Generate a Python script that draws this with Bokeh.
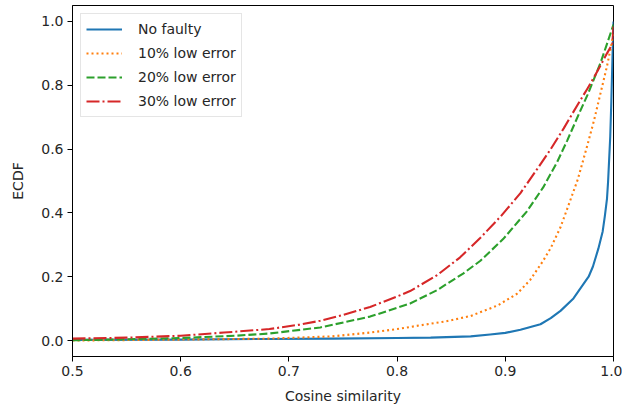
from bokeh.plotting import figure
from bokeh.models import FixedTicker, NumeralTickFormatter, Legend, LegendItem
from bokeh.embed import file_html
from bokeh.resources import INLINE

# ECDF of cosine similarity for each fault scenario
no_faulty_x = [0.5, 0.6, 0.682, 0.74, 0.8, 0.831, 0.868, 0.886, 0.9, 0.914, 0.9325,
               0.942, 0.951, 0.963, 0.972, 0.977, 0.981, 0.986, 0.990, 0.992, 0.994,
               0.995, 0.997, 0.998, 0.999, 1.0]
no_faulty_y = [0.002, 0.003, 0.005, 0.006, 0.008, 0.009, 0.013, 0.019, 0.024, 0.034,
               0.051, 0.07, 0.093, 0.132, 0.176, 0.20, 0.232, 0.288, 0.342, 0.39,
               0.445, 0.498, 0.64, 0.75, 0.88, 1.0]

low10_x = [0.5, 0.6, 0.682, 0.74, 0.775, 0.8, 0.822, 0.845, 0.868, 0.893, 0.911,
           0.923, 0.935, 0.942, 0.951, 0.958, 0.967, 0.976, 0.982, 0.988, 0.994,
           0.997, 1.0]
low10_y = [0.0, 0.003, 0.006, 0.013, 0.025, 0.036, 0.048, 0.06, 0.077, 0.11, 0.147,
           0.19, 0.25, 0.29, 0.355, 0.42, 0.505, 0.614, 0.69, 0.775, 0.86, 0.91, 0.96]

low20_x = [0.5, 0.55, 0.6, 0.65, 0.682, 0.729, 0.775, 0.812, 0.837, 0.861, 0.877,
           0.898, 0.920, 0.935, 0.948, 0.957, 0.968, 0.976, 0.982, 0.988, 0.994, 1.0]
low20_y = [0.001, 0.004, 0.008, 0.015, 0.022, 0.041, 0.075, 0.116, 0.158, 0.21,
           0.25, 0.318, 0.405, 0.48, 0.56, 0.625, 0.71, 0.77, 0.82, 0.87, 0.93, 0.99]

low30_x = [0.5, 0.55, 0.6, 0.64, 0.682, 0.71, 0.729, 0.75, 0.775, 0.8, 0.812, 0.837,
           0.858, 0.877, 0.896, 0.914, 0.930, 0.942, 0.954, 0.967, 0.976, 0.982,
           0.988, 0.994, 0.999, 1.0]
low30_y = [0.006, 0.009, 0.015, 0.025, 0.036, 0.05, 0.062, 0.08, 0.105, 0.138,
           0.155, 0.205, 0.26, 0.322, 0.39, 0.462, 0.54, 0.60, 0.665, 0.74, 0.79,
           0.825, 0.862, 0.90, 0.93, 0.99]

series_labels = ["No faulty", "10% low error", "20% low error", "30% low error"]
x_ticks = [0.5, 0.6, 0.7, 0.8, 0.9, 1.0]
y_ticks = [0.0, 0.2, 0.4, 0.6, 0.8, 1.0]

FONT = "DejaVu Sans"
TEXT = "#262626"

p = figure(width=622, height=410, x_range=(0.5, 1.0), y_range=(-0.05, 1.05),
           output_backend="svg", toolbar_location=None,
           min_border_left=72, min_border_right=9, min_border_top=5,
           min_border_bottom=54)
p.background_fill_color = "white"
p.border_fill_color = "white"
p.outline_line_color = "black"
p.outline_line_width = 1
p.xgrid.visible = False
p.ygrid.visible = False

styles = [
    ("#1f77b4", "solid"),
    ("#ff7f0e", "2 3"),
    ("#2ca02c", "8 3"),
    ("#d62728", "13 3 2 3"),
]
data = [(no_faulty_x, no_faulty_y), (low10_x, low10_y),
        (low20_x, low20_y), (low30_x, low30_y)]

items = []
for (xs, ys), (color, dash), label in zip(data, styles, series_labels):
    r = p.line(xs, ys, line_color=color, line_width=2.1, line_dash=dash,
               line_join="round")
    items.append(LegendItem(label=label, renderers=[r]))

p.xaxis.ticker = FixedTicker(ticks=x_ticks)
p.yaxis.ticker = FixedTicker(ticks=y_ticks)
p.xaxis.formatter = NumeralTickFormatter(format="0.0")
p.yaxis.formatter = NumeralTickFormatter(format="0.0")
for ax in (p.xaxis[0], p.yaxis[0]):
    ax.minor_tick_line_color = None
    ax.major_tick_in = 0
    ax.major_tick_out = 5
    ax.major_tick_line_color = "black"
    ax.axis_line_color = "black"
    ax.major_label_text_font = FONT
    ax.major_label_text_font_size = "14px"
    ax.major_label_text_color = TEXT
    ax.axis_label_text_font = FONT
    ax.axis_label_text_font_size = "14px"
    ax.axis_label_text_font_style = "normal"
    ax.axis_label_text_color = TEXT
    ax.major_label_standoff = 4
p.xaxis.axis_label = "Cosine similarity"
p.yaxis.axis_label = "ECDF"
p.xaxis.axis_label_standoff = 9
p.yaxis.axis_label_standoff = 12

legend = Legend(items=items, location="top_left", margin=8, padding=5,
                spacing=4, glyph_width=36, glyph_height=20, label_height=20,
                label_standoff=16, label_text_font=FONT,
                label_text_font_size="14px", label_text_color=TEXT,
                border_line_color="#cccccc", border_line_width=1,
                background_fill_color="white", background_fill_alpha=0.8)
p.add_layout(legend)

open("out.html", "w").write(file_html(p, INLINE))
